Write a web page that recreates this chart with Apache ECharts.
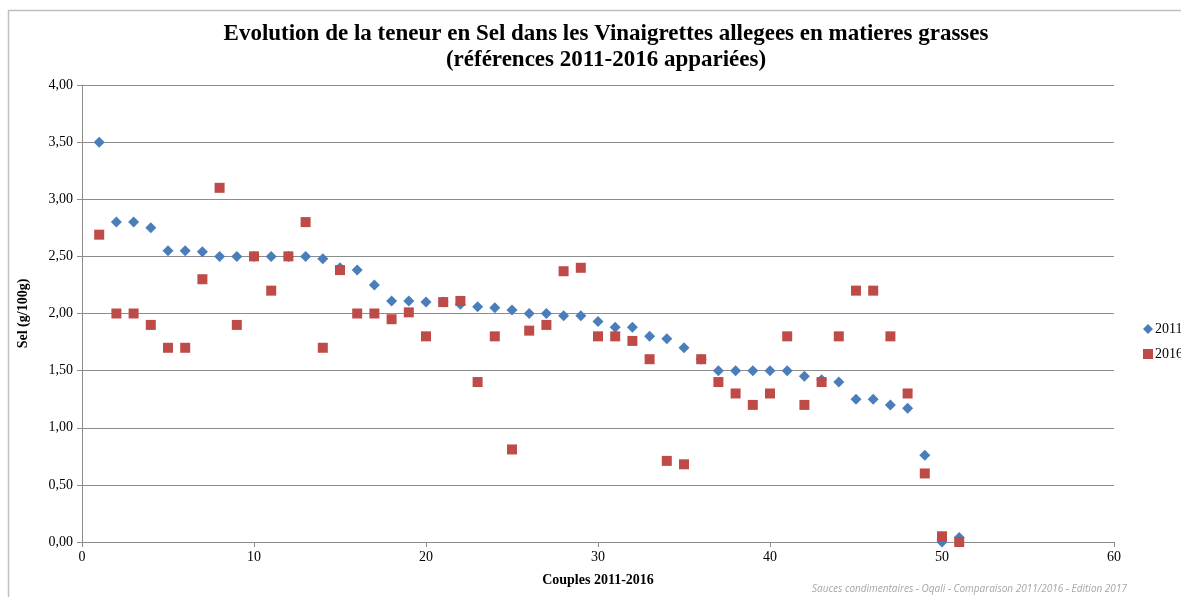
<!DOCTYPE html>
<html>
<head>
<meta charset="utf-8">
<script src="https://cdn.jsdelivr.net/npm/echarts@6/dist/echarts.min.js"></script>
<style>
  html, body { margin: 0; padding: 0; background: #fff; }
  #chart { width: 1181px; height: 597px; }
</style>
</head>
<body>
<div id="chart"></div>
<script>
// Couple index (pairs of references 2011/2016)
const couples = [1,2,3,4,5,6,7,8,9,10,11,12,13,14,15,16,17,18,19,20,21,22,23,24,25,26,
  27,28,29,30,31,32,33,34,35,36,37,38,39,40,41,42,43,44,45,46,47,48,49,50,51];

// Salt content (g/100g), 2011
const sel2011 = [3.50,2.80,2.80,2.75,2.55,2.55,2.54,2.50,2.50,2.50,2.50,2.50,2.50,2.48,2.40,2.38,
  2.25,2.11,2.11,2.10,2.10,2.08,2.06,2.05,2.03,2.00,2.00,1.98,1.98,1.93,1.88,1.88,1.80,1.78,1.70,
  1.60,1.50,1.50,1.50,1.50,1.50,1.45,1.42,1.40,1.25,1.25,1.20,1.17,0.76,0.00,0.04];

// Salt content (g/100g), 2016
const sel2016 = [2.69,2.00,2.00,1.90,1.70,1.70,2.30,3.10,1.90,2.50,2.20,2.50,2.80,1.70,2.38,2.00,
  2.00,1.95,2.01,1.80,2.10,2.11,1.40,1.80,0.81,1.85,1.90,2.37,2.40,1.80,1.80,1.76,1.60,0.71,0.68,
  1.60,1.40,1.30,1.20,1.30,1.80,1.20,1.40,1.80,2.20,2.20,1.80,1.30,0.60,0.05,0.00];

const yTicks = ['0,00','0,50','1,00','1,50','2,00','2,50','3,00','3,50','4,00'];

const seriesNames = ['2011', '2016'];
const titleText = 'Evolution de la teneur en Sel dans les Vinaigrettes allegees en matieres grasses\n(références 2011-2016 appariées)';
const xAxisTitle = 'Couples 2011-2016';
const yAxisTitle = 'Sel (g/100g)';
const sourceNote = 'Sauces condimentaires - Oqali - Comparaison 2011/2016 - Edition 2017';

const pairs = (ys) => couples.map((c, i) => [c, ys[i]]);

const serif = '"Liberation Serif", "DejaVu Serif", serif';
const gridColor = '#8c8c8c';

const chart = echarts.init(document.getElementById('chart'), null, { renderer: 'canvas' });

chart.setOption({
  animation: false,
  backgroundColor: '#fff',
  title: {
    text: titleText,
    left: 601,
    top: 16,
    textAlign: 'center',
    textStyle: {
      fontFamily: serif,
      fontWeight: 'bold',
      fontSize: 23,
      lineHeight: 26,
      color: '#000'
    }
  },
  legend: {
    orient: 'vertical',
    left: 1138,
    top: 317,
    itemWidth: 10,
    itemHeight: 10,
    itemGap: 11,
    textStyle: { fontFamily: serif, fontSize: 14, color: '#000', padding: [0, 0, 0, -3] },
    data: [
      { name: seriesNames[0], icon: 'diamond' },
      { name: seriesNames[1], icon: 'rect' }
    ]
  },
  grid: { left: 82, right: 67, top: 85, bottom: 55, containLabel: false },
  xAxis: {
    type: 'value',
    min: 0,
    max: 60,
    interval: 10,
    name: xAxisTitle,
    nameLocation: 'middle',
    nameGap: 31,
    nameTextStyle: { fontFamily: serif, fontWeight: 'bold', fontSize: 14, color: '#000' },
    axisLine: { show: true, lineStyle: { color: gridColor, width: 1 } },
    axisTick: { show: true, inside: false, length: 5, lineStyle: { color: gridColor } },
    axisLabel: { fontFamily: serif, fontSize: 14, color: '#000', margin: 8 },
    splitLine: { show: false }
  },
  yAxis: {
    type: 'value',
    min: 0,
    max: 4,
    interval: 0.5,
    name: yAxisTitle,
    nameLocation: 'middle',
    nameGap: 52,
    nameRotate: 90,
    nameTextStyle: { fontFamily: serif, fontWeight: 'bold', fontSize: 14, color: '#000' },
    axisLine: { show: true, lineStyle: { color: gridColor, width: 1 } },
    axisTick: { show: true, inside: false, length: 5, lineStyle: { color: gridColor } },
    axisLabel: {
      fontFamily: serif, fontSize: 14, color: '#000', margin: 9,
      formatter: (v) => yTicks[Math.round(v / 0.5)]
    },
    splitLine: { show: true, lineStyle: { color: gridColor, width: 1 } }
  },
  graphic: [
    {
      type: 'rect',
      shape: { x: 8.5, y: 10.5, width: 1300, height: 700 },
      style: { fill: 'none', stroke: '#bfbfbf', lineWidth: 1.5 },
      silent: true,
      z: -1
    },
    {
      type: 'text',
      left: 812,
      top: 584,
      style: {
        text: sourceNote,
        fontFamily: '"Open Sans", "Liberation Sans", sans-serif',
        fontStyle: 'italic',
        fontSize: 10,
        fill: '#a6a6a6'
      }
    }
  ],
  series: [
    {
      name: seriesNames[0],
      type: 'scatter',
      symbol: 'diamond',
      symbolSize: 11,
      data: pairs(sel2011),
      itemStyle: { color: '#4a7ebb', opacity: 1 },
      z: 2
    },
    {
      name: seriesNames[1],
      type: 'scatter',
      symbol: 'rect',
      symbolSize: 10,
      data: pairs(sel2016),
      itemStyle: { color: '#be4b48', opacity: 1 },
      z: 3
    }
  ]
});
</script>
</body>
</html>
